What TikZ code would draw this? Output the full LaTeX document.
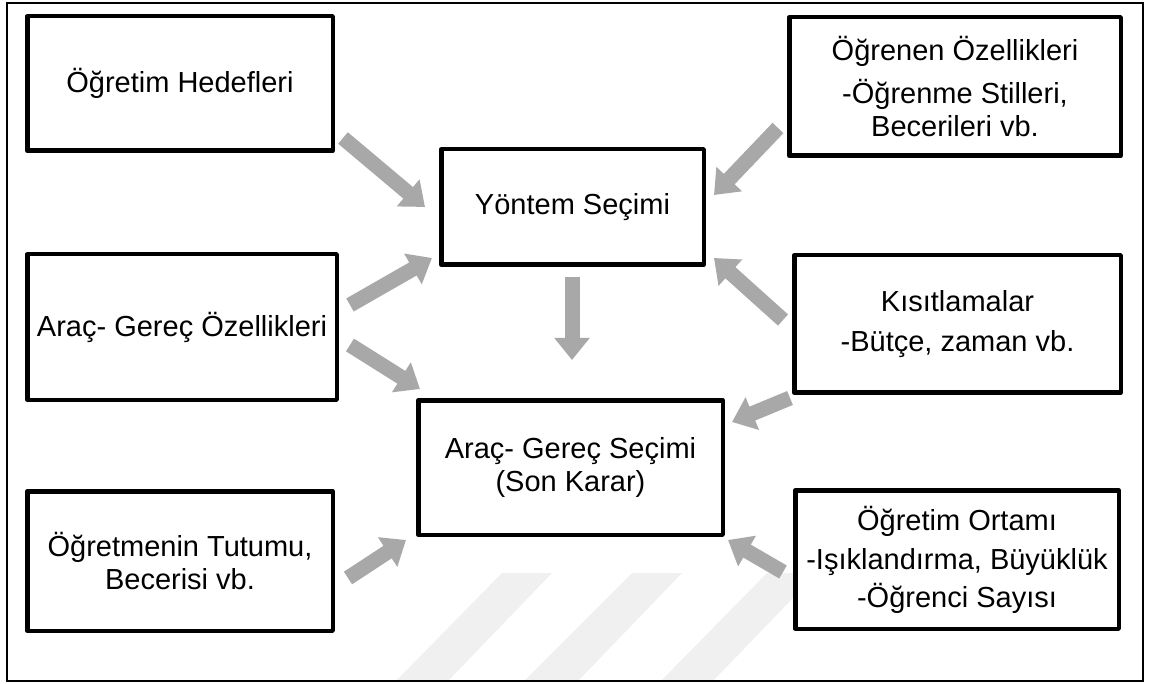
\documentclass[tikz,border=0pt]{standalone}
\usepackage{fontspec}
\setmainfont{Liberation Sans}
\usetikzlibrary{arrows.meta}
\definecolor{arrowgray}{RGB}{168,168,168}
\definecolor{wmgray}{RGB}{240,240,240}
\begin{document}
\begin{tikzpicture}[x=1pt,y=-1pt,
  box/.style={draw=black, line width=4.5pt, line join=round, fill=white, align=center, inner sep=0pt,
    font=\fontsize{29}{33}\selectfont},
  blk/.style={draw=arrowgray, line width=15pt, -{Triangle[length=22pt,width=34pt]}},
  stripe/.style={fill=wmgray, draw=none}]
\useasboundingbox (0,0) rectangle (1151,684);
\fill[white] (0,0) rectangle (1151,684);
% watermark stripes
\fill[stripe] (395,682) -- (447,682) -- (552,573) -- (502,573) -- cycle;
\fill[stripe] (523,682) -- (577,682) -- (682,573) -- (632,573) -- cycle;
\fill[stripe] (660,682) -- (712,682) -- (817,573) -- (767,573) -- cycle;
% outer frame
\draw[line width=1.5pt] (7,3) rectangle (1143,681);
% boxes
\node[box, minimum width=305.5pt, minimum height=134.5pt] (b1) at (180,83.5) {Öğretim Hedefleri};
\node[box, minimum width=331.5pt, minimum height=138.5pt] (b2) at (955,86.5) {Öğrenen Özellikleri\\[10pt]-Öğrenme Stilleri,\\Becerileri vb.};
\node[box, minimum width=262.5pt, minimum height=115.5pt] (b3) at (572.5,207) {Yöntem Seçimi};
\node[box, minimum width=309.5pt, minimum height=145.5pt] (b4) at (182,327) {Araç- Gereç Özellikleri};
\node[box, minimum width=326.5pt, minimum height=137.5pt] (b5) at (957.5,324) {Kısıtlamalar\\[7pt]-Bütçe, zaman vb.};
\node[box, minimum width=304.5pt, minimum height=134.5pt] (b6) at (570.5,467.5) {Araç- Gereç Seçimi\\(Son Karar)};
\node[box, minimum width=305.5pt, minimum height=139.5pt] (b7) at (180,561) {Öğretmenin Tutumu,\\Becerisi vb.};
\node[box, minimum width=323.5pt, minimum height=138.5pt] (b8) at (957,559.5) {Öğretim Ortamı\\[6pt]-Işıklandırma, Büyüklük\\[5pt]-Öğrenci Sayısı};
% arrow end points
\coordinate (a1s) at (343,138); \coordinate (a1e) at (425,207);
\coordinate (a2s) at (778,128); \coordinate (a2e) at (714,195);
\coordinate (a3s) at (350,305); \coordinate (a3e) at (432,258);
\coordinate (a4s) at (783,320); \coordinate (a4e) at (714,258);
\coordinate (a5s) at (572,277); \coordinate (a5e) at (572,360);
\coordinate (a6s) at (350,345); \coordinate (a6e) at (420,389);
\coordinate (a7s) at (790,398); \coordinate (a7e) at (732,422);
\coordinate (a8s) at (348,578); \coordinate (a8e) at (406,540);
\coordinate (a9s) at (783,572); \coordinate (a9e) at (728,540);
\foreach \i in {1,...,9} {\draw[blk] (a\i s) -- (a\i e);}
\end{tikzpicture}
\end{document}
